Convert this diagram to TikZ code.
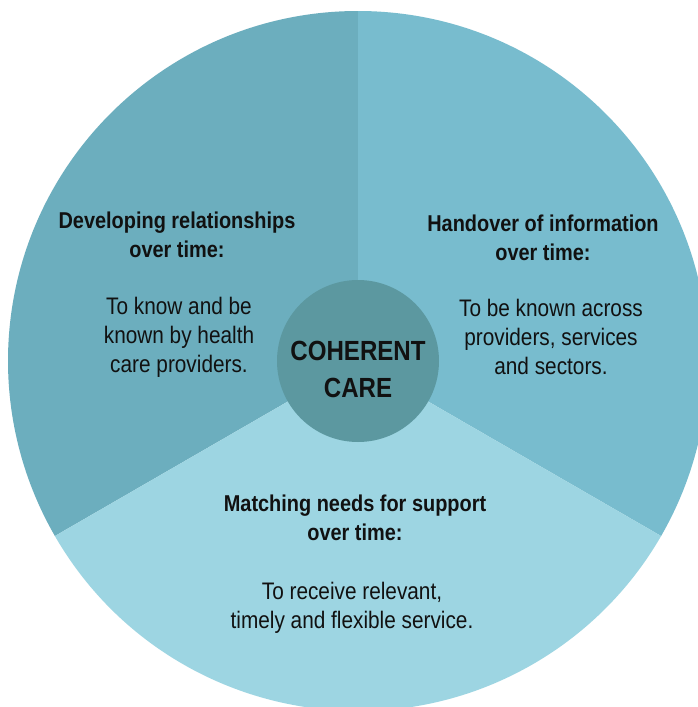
\documentclass[tikz,border=0pt]{standalone}
\usepackage{fontspec}
\setmainfont{Liberation Sans}[FakeStretch=0.87]
\usepackage{tikz}
\usetikzlibrary{positioning}

\definecolor{leftsec}{RGB}{108,174,190}
\definecolor{rightsec}{RGB}{120,188,206}
\definecolor{lowsec}{RGB}{157,213,226}
\definecolor{hubcol}{RGB}{92,152,160}
\definecolor{ink}{RGB}{17,17,17}

\tikzset{
  heading/.style={align=center, anchor=base, inner sep=0pt, text=ink,
    font=\fontsize{22.9}{28.5}\selectfont\bfseries},
  body/.style={align=center, anchor=base, inner sep=0pt, text=ink,
    font=\fontsize{23.9}{28.7}\selectfont},
}

\begin{document}
\begin{tikzpicture}[x=1pt,y=1pt]

\useasboundingbox (0,0) rectangle (698,-707);
\clip (0,0) rectangle (698,-707);
\fill[white] (0,0) rectangle (698,-707);

\coordinate (C) at (358,-361);

% Sectors
\fill[leftsec] (C) -- ++(90:350) arc[start angle=90, end angle=210, radius=350] -- cycle;
\fill[rightsec] (C) -- ++(90:350) arc[start angle=90, end angle=-30, radius=350] -- cycle;
\fill[lowsec] (C) -- ++(210:350) arc[start angle=210, end angle=330, radius=350] -- cycle;

\node[circle,
    fill=hubcol,
    minimum size=162pt,
    inner sep=0pt] (hub) at (C) {};

% Labels (base = last line)
\node[heading,
    font=\fontsize{27.7}{37}\selectfont\bfseries
] (hubtext) at (358,-397) {COHERENT\\CARE};

\node[heading] (relhead) at (177,-257) {Developing relationships\\over time:};
\node[body] (reltext) at (179,-372) {To know and be\\known by health\\care providers.};

\node[heading] (infohead) at (543,-260) {Handover of information\\over time:};
\node[body] (infotext) at (551,-374) {To be known across\\providers, services\\and sectors.};

\node[heading] (needhead) at (355,-540) {Matching needs for support\\over time:};
\node[body] (needtext) at (352,-628) {To receive relevant,\\timely and flexible service.};

\end{tikzpicture}
\end{document}
